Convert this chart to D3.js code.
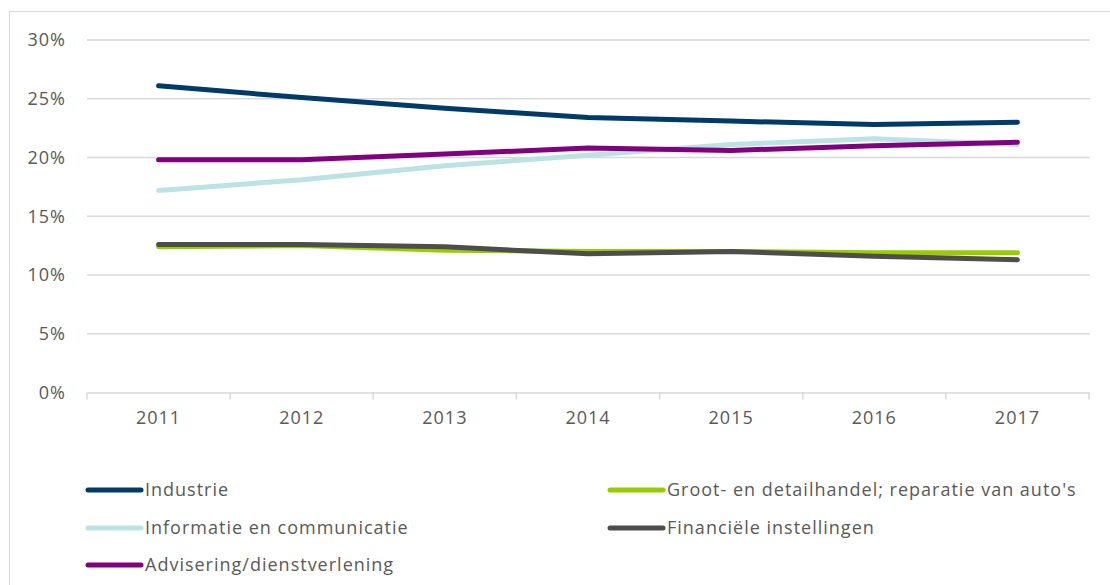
<!DOCTYPE html>
<html>
<head>
<meta charset="utf-8">
<script src="https://cdn.jsdelivr.net/npm/d3@7"></script>
<style>
  html, body { margin: 0; padding: 0; background: #fff; }
  svg { display: block; }
  text { font-family: "Open Sans", "Noto Sans", sans-serif; fill: #595959; letter-spacing: 1px; }
</style>
</head>
<body>
<svg id="chart" width="1110" height="585"></svg>
<script>
const years = ["2011", "2012", "2013", "2014", "2015", "2016", "2017"];
const yTicks = [0, 0.05, 0.10, 0.15, 0.20, 0.25, 0.30];

const seriesNames = [
  "Industrie",
  "Groot- en detailhandel; reparatie van auto's",
  "Informatie en communicatie",
  "Financiële instellingen",
  "Advisering/dienstverlening"
];
const industrie    = [0.261, 0.251, 0.242, 0.234, 0.231, 0.228, 0.230];
const grootHandel  = [0.124, 0.125, 0.121, 0.120, 0.120, 0.119, 0.119];
const informatie   = [0.172, 0.181, 0.193, 0.202, 0.211, 0.216, 0.211];
const financieel   = [0.126, 0.126, 0.124, 0.118, 0.120, 0.116, 0.113];
const advisering   = [0.198, 0.198, 0.203, 0.208, 0.206, 0.210, 0.213];
const seriesValues = [industrie, grootHandel, informatie, financieel, advisering];
const seriesColors = ["#003A68", "#99CC00", "#BDE2E4", "#4D4D4D", "#800080"];

const svg = d3.select("#chart");

// outer frame
svg.append("rect")
  .attr("x", 9.5).attr("y", 11.5).attr("width", 1200).attr("height", 700)
  .attr("fill", "none").attr("stroke", "#d9d9d9").attr("stroke-width", 1);

const plotLeft = 87, plotRight = 1089, plotTop = 40, plotBottom = 392.5;

const xBand = d3.scaleBand().domain(years).range([plotLeft, plotRight]).padding(0);
const xPos = d => xBand(d) + xBand.bandwidth() / 2;
const y = d3.scaleLinear().domain([0, 0.30]).range([plotBottom, plotTop]);

// gridlines
svg.append("g")
  .selectAll("line")
  .data(yTicks.filter(t => t > 0))
  .join("line")
  .attr("x1", plotLeft).attr("x2", plotRight + 1)
  .attr("y1", d => y(d)).attr("y2", d => y(d))
  .attr("stroke", "#d9d9d9").attr("stroke-width", 1.5);

// y axis labels
const yAxis = d3.axisLeft(y).tickValues(yTicks).tickFormat(d3.format(".0%")).tickSize(0).tickPadding(0);
const gy = svg.append("g").attr("transform", `translate(${66},0)`).call(yAxis);
gy.select(".domain").remove();
gy.selectAll("text").attr("font-size", 18).attr("font-family", "'Open Sans', sans-serif").attr("fill", "#595959");

// x axis
const xAxis = d3.axisBottom(xBand).tickSize(0).tickPadding(19);
const gx = svg.append("g").attr("transform", `translate(0,${plotBottom})`).call(xAxis);
gx.select(".domain").attr("stroke", "#d9d9d9").attr("stroke-width", 1.5);
gx.selectAll("text").attr("font-size", 18).attr("font-family", "'Open Sans', sans-serif").attr("fill", "#595959");
// tick marks at band boundaries
const boundaries = years.map(d => xBand(d)).concat([xBand(years[years.length - 1]) + xBand.bandwidth()]);
svg.append("g").selectAll("line").data(boundaries).join("line")
  .attr("x1", d => d).attr("x2", d => d)
  .attr("y1", plotBottom).attr("y2", plotBottom + 7)
  .attr("stroke", "#d9d9d9").attr("stroke-width", 1.5);

// lines
const line = d3.line().x((d, i) => xPos(years[i])).y(d => y(d));
seriesValues.forEach((vals, i) => {
  svg.append("path")
    .datum(vals)
    .attr("d", line)
    .attr("fill", "none")
    .attr("stroke", seriesColors[i])
    .attr("stroke-width", 5)
    .attr("stroke-linecap", "round")
    .attr("stroke-linejoin", "round");
});

// legend
const legendPos = [
  {x: 88, y: 490}, {x: 610, y: 490},
  {x: 88, y: 528}, {x: 610, y: 528},
  {x: 88, y: 565}
];
seriesNames.forEach((name, i) => {
  const p = legendPos[i];
  const g = svg.append("g");
  g.append("line")
    .attr("x1", p.x).attr("x2", p.x + 53)
    .attr("y1", p.y).attr("y2", p.y)
    .attr("stroke", seriesColors[i]).attr("stroke-width", 5)
    .attr("stroke-linecap", "round");
  g.append("text")
    .attr("x", p.x + 57).attr("y", p.y)
    .attr("dy", "0.35em")
    .attr("font-size", 18)
    .text(name);
});
</script>
</body>
</html>
